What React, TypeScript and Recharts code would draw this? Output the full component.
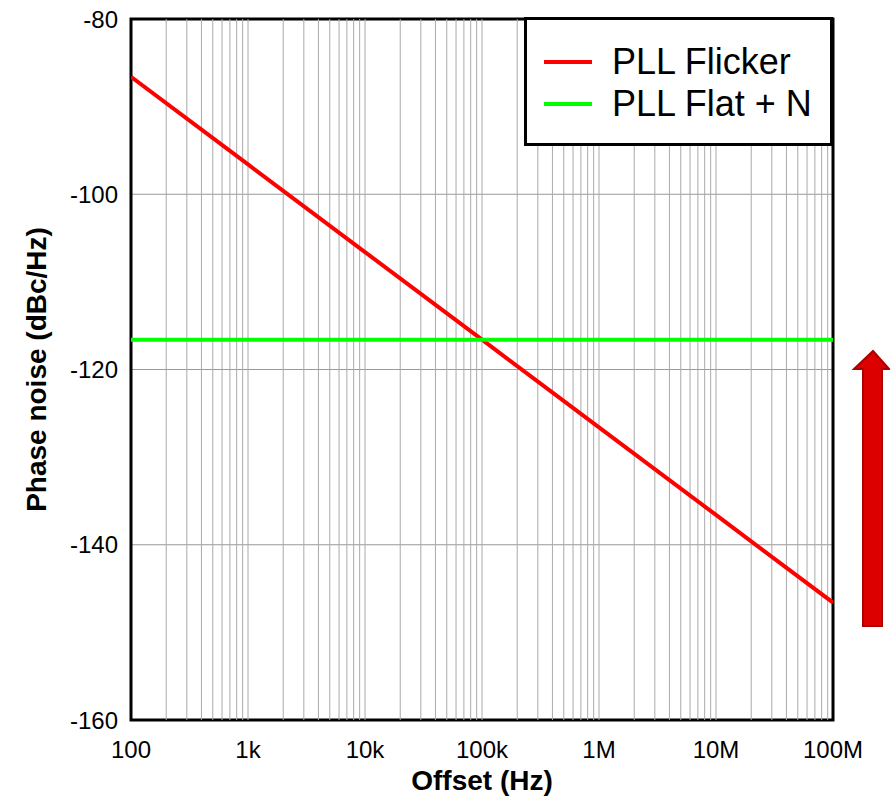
import React from 'react';
import {
  LineChart,
  Line,
  XAxis,
  YAxis,
  CartesianGrid,
  ReferenceLine,
  ReferenceArea,
  Label,
} from 'recharts';

const offsets = [100, 1e3, 1e4, 1e5, 1e6, 1e7, 1e8];
const offsetLabels = ['100', '1k', '10k', '100k', '1M', '10M', '100M'];
const pllFlicker = [-86.6, -96.6, -106.6, -116.6, -126.6, -136.6, -146.6];
const pllFlatN = [-116.6, -116.6, -116.6, -116.6, -116.6, -116.6, -116.6];
const yTicks = [-160, -140, -120, -100, -80];
const seriesNames = ['PLL Flicker', 'PLL Flat + N'];
const seriesColors = ['#ff0000', '#00ff00'];

const data = offsets.map((f, i) => ({ f, flicker: pllFlicker[i], flat: pllFlatN[i] }));

// log grid: every 1..9 inside each decade
const gridX: number[] = [];
offsets.slice(0, -1).forEach((d) => {
  for (let m = 1; m < 10; m++) gridX.push(d * m);
});

const font = 'Arial, "Liberation Sans", sans-serif';

// legend sits on top of the plot, so it is drawn as an overlay and not via <Legend/>
const LegendBox = () => (
  <div
    style={{
      position: 'absolute',
      left: 524,
      top: 17,
      width: 303,
      height: 123,
      border: '3px solid #000',
      background: '#fff',
      fontFamily: font,
      fontSize: 36,
      color: '#000',
    }}
  >
    {seriesNames.map((name, i) => (
      <div
        key={name}
        style={{ position: 'absolute', left: 17, top: 21 + i * 42, height: 42, display: 'flex', alignItems: 'center' }}
      >
        <div style={{ width: 48, height: 4, background: seriesColors[i], marginRight: 20 }} />
        <span style={{ lineHeight: '42px', whiteSpace: 'nowrap' }}>{name}</span>
      </div>
    ))}
  </div>
);

const App: React.FC = () => {
  return (
    <div style={{ position: 'absolute', left: 0, top: 0, width: 890, height: 796, background: '#fff' }}>
      <LineChart
        width={890}
        height={796}
        data={data}
        margin={{ top: 19, right: 57, bottom: 6, left: 30 }}
        style={{ fontFamily: font }}
      >
        <CartesianGrid vertical={false} stroke="#999" strokeWidth={1} />
        {gridX.map((v) => (
          <ReferenceLine key={v} x={v} stroke={v === 100 ? 'none' : '#aaa'} strokeWidth={1} />
        ))}
        <XAxis
          dataKey="f"
          type="number"
          scale="log"
          domain={[100, 1e8]}
          ticks={offsets}
          tickFormatter={(v: number) => offsetLabels[offsets.indexOf(v)]}
          allowDataOverflow
          height={70}
          tickSize={0}
          tickMargin={21}
          axisLine={false}
          tick={{ fill: '#000', fontSize: 24 }}
        >
          <Label
            value="Offset (Hz)"
            position="insideBottom"
            offset={0}
            style={{ fontSize: 28, fontWeight: 'bold', fill: '#000' }}
          />
        </XAxis>
        <YAxis
          type="number"
          domain={[-160, -80]}
          ticks={yTicks}
          width={101}
          tickSize={0}
          tickMargin={13}
          axisLine={false}
          tick={{ fill: '#000', fontSize: 24 }}
        >
          <Label
            value="Phase noise (dBc/Hz)"
            angle={-90}
            position="insideLeft"
            offset={6}
            style={{ fontSize: 28, fontWeight: 'bold', fill: '#000', textAnchor: 'middle' }}
          />
        </YAxis>
        <Line
          type="linear"
          dataKey="flicker"
          name={seriesNames[0]}
          stroke={seriesColors[0]}
          strokeWidth={4}
          dot={false}
          isAnimationActive={false}
        />
        <Line
          type="linear"
          dataKey="flat"
          name={seriesNames[1]}
          stroke={seriesColors[1]}
          strokeWidth={4}
          dot={false}
          isAnimationActive={false}
        />
        <ReferenceArea
          x1={100}
          x2={1e8}
          y1={-160}
          y2={-80}
          fill="none"
          fillOpacity={0}
          stroke="#000"
          strokeWidth={3}
          ifOverflow="visible"
        />
      </LineChart>
      <LegendBox />
      <svg
        width={890}
        height={796}
        style={{ position: 'absolute', left: 0, top: 0, pointerEvents: 'none' }}
      >
        <polygon
          points="873,351 889,369 882,369 882,626 863,626 863,369 854,369"
          fill="#dd0000"
          stroke="#aa0000"
          strokeWidth={2}
        />
      </svg>
    </div>
  );
};

export default App;
